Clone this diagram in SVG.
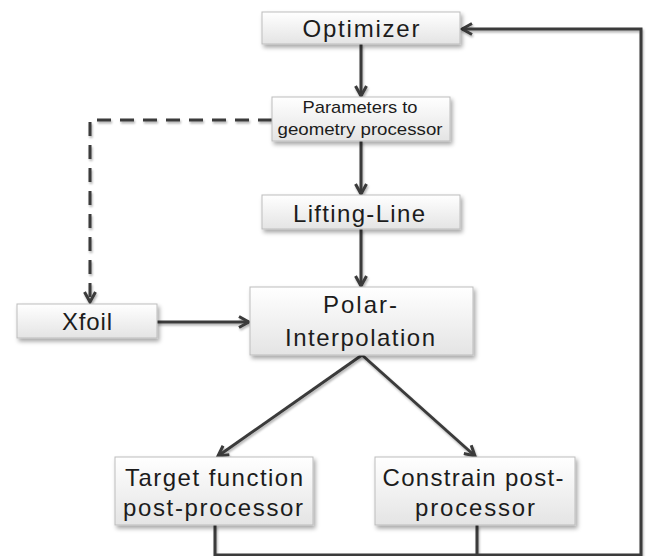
<svg xmlns="http://www.w3.org/2000/svg" width="647" height="556" viewBox="0 0 647 556">
  <defs>
    <linearGradient id="boxFill" x1="0" y1="0" x2="0" y2="1">
      <stop offset="0" stop-color="#ffffff"/>
      <stop offset="1" stop-color="#e4e4e4"/>
    </linearGradient>
    <filter id="boxShadow" x="-10%" y="-20%" width="125%" height="150%">
      <feDropShadow dx="2" dy="3" stdDeviation="2" flood-color="#000" flood-opacity="0.35"/>
    </filter>
    <filter id="lineShadow" x="-5%" y="-5%" width="110%" height="110%">
      <feDropShadow dx="1" dy="2" stdDeviation="1.2" flood-color="#000" flood-opacity="0.3"/>
    </filter>
    <marker id="arrow" viewBox="0 0 14 14" refX="12" refY="7" markerWidth="14" markerHeight="14" markerUnits="userSpaceOnUse" orient="auto">
      <path d="M2,1.5 L12,7 L2,12.5" fill="none" stroke="#3a3a3a" stroke-width="3" stroke-linejoin="miter"/>
    </marker>
  </defs>
  <style>
    .box { fill: url(#boxFill); stroke: #bdbdbd; stroke-width: 1; filter: url(#boxShadow); }
    .label { font-family: "Liberation Sans", Arial, sans-serif; fill: #1c1c1c; text-anchor: middle; }
    .big { font-size: 24px; }
    .small { font-size: 17px; }
    .conn { fill: none; stroke: #3a3a3a; stroke-width: 3; }
    .dash { stroke-dasharray: 14 9; }
  </style>

  <rect width="647" height="556" fill="#ffffff"/>

  <g id="connectors" filter="url(#lineShadow)">
    <path class="conn" d="M361,44 L361,96" marker-end="url(#arrow)"/>
    <path class="conn" d="M361,141 L361,194" marker-end="url(#arrow)"/>
    <path class="conn" d="M361,229 L361,286" marker-end="url(#arrow)"/>
    <path class="conn" d="M157,322 L249,322" marker-end="url(#arrow)"/>
    <path class="conn" d="M362,355 L218,456" marker-end="url(#arrow)"/>
    <path class="conn" d="M362,355 L475,456" marker-end="url(#arrow)"/>
    <path class="conn dash" d="M272,120 L90,120 L90,302" marker-end="url(#arrow)"/>
    <path class="conn" d="M215,525 L215,555 L641,555 L641,29 L462,29" marker-end="url(#arrow)"/>
    <path class="conn" d="M477,525 L477,555"/>
  </g>

  <g id="optimizer">
    <rect class="box" x="262" y="12" width="198" height="32"/>
    <text class="label big" x="361" y="37" textLength="117" lengthAdjust="spacing">Optimizer</text>
  </g>

  <g id="parameters">
    <rect class="box" x="272" y="97" width="178" height="44"/>
    <text class="label small" x="360" y="113" textLength="115" lengthAdjust="spacingAndGlyphs">Parameters to</text>
    <text class="label small" x="360" y="135" textLength="165" lengthAdjust="spacingAndGlyphs">geometry processor</text>
  </g>

  <g id="lifting-line">
    <rect class="box" x="262" y="195" width="198" height="34"/>
    <text class="label big" x="359" y="222" textLength="132" lengthAdjust="spacing">Lifting-Line</text>
  </g>

  <g id="polar-interpolation">
    <rect class="box" x="250" y="287" width="223" height="68"/>
    <text class="label big" x="360" y="313" textLength="74" lengthAdjust="spacing">Polar-</text>
    <text class="label big" x="360" y="346" textLength="150" lengthAdjust="spacing">Interpolation</text>
  </g>

  <g id="xfoil">
    <rect class="box" x="17" y="304" width="140" height="34"/>
    <text class="label big" x="87" y="330" textLength="50" lengthAdjust="spacing">Xfoil</text>
  </g>

  <g id="target-function">
    <rect class="box" x="115" y="457" width="198" height="68"/>
    <text class="label big" x="214" y="486" textLength="178" lengthAdjust="spacing">Target function</text>
    <text class="label big" x="213" y="516" textLength="180" lengthAdjust="spacing">post-processor</text>
  </g>

  <g id="constrain">
    <rect class="box" x="375" y="457" width="200" height="68"/>
    <text class="label big" x="473" y="486" textLength="181" lengthAdjust="spacing">Constrain post-</text>
    <text class="label big" x="475" y="516" textLength="120" lengthAdjust="spacing">processor</text>
  </g>
</svg>
